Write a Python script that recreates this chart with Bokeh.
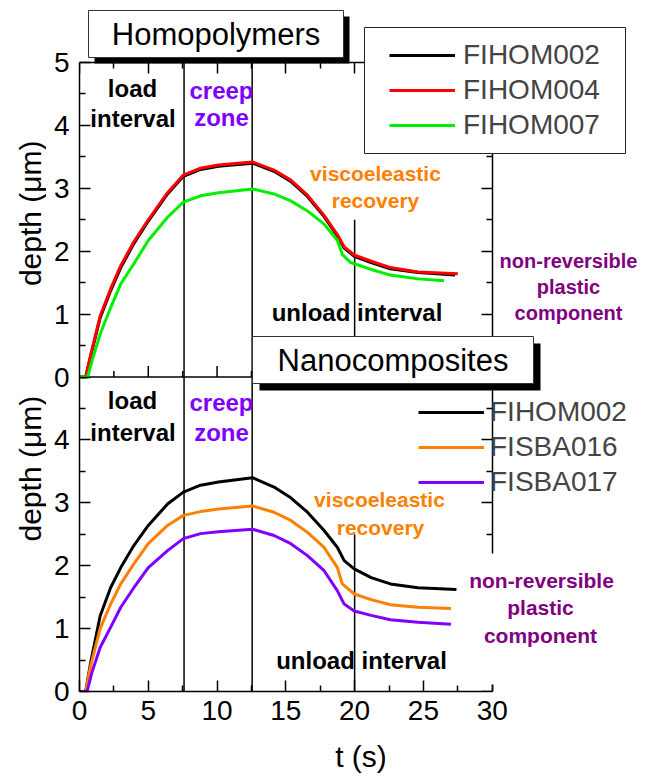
import math
from bokeh.plotting import figure
from bokeh.layouts import row
from bokeh.models import (Range1d, LinearAxis, FixedTicker, Label,
                          BoxAnnotation, Legend, LegendItem)
from bokeh.embed import file_html
from bokeh.resources import INLINE

# ---------------- data: top panel (Homopolymers) ----------------
t_hom002 = [0, 0.45, 0.8, 1.5, 2.26, 3.0, 3.95, 5.0, 6.4, 7.55, 8.8, 10.1, 12.57,
            14.14, 15.36, 16.57, 17.78, 18.75, 19.24, 19.97, 21.2, 22.6, 24.6, 27.3]
d_hom002 = [0, 0, 0.32, 0.94, 1.37, 1.74, 2.12, 2.48, 2.91, 3.19, 3.30, 3.35, 3.40,
            3.27, 3.11, 2.87, 2.55, 2.24, 2.05, 1.92, 1.82, 1.72, 1.66, 1.62]
t_hom004 = [0, 0.45, 0.8, 1.5, 2.26, 3.0, 3.95, 5.0, 6.4, 7.55, 8.8, 10.1, 12.57,
            14.14, 15.36, 16.57, 17.78, 18.75, 19.24, 19.97, 21.2, 22.6, 24.6, 27.5]
d_hom004 = [0, 0, 0.34, 0.97, 1.40, 1.77, 2.15, 2.50, 2.93, 3.21, 3.32, 3.37, 3.42,
            3.29, 3.13, 2.89, 2.57, 2.26, 2.07, 1.94, 1.84, 1.74, 1.67, 1.64]
t_hom007 = [0, 0.6, 0.9, 1.5, 2.26, 3.0, 3.95, 5.0, 6.4, 7.55, 8.8, 10.1, 12.57,
            14.14, 15.36, 16.57, 17.78, 18.75, 19.1, 19.7, 21.2, 22.6, 24.6, 26.5]
d_hom007 = [0, 0, 0.25, 0.68, 1.10, 1.48, 1.80, 2.17, 2.54, 2.78, 2.88, 2.93, 2.99,
            2.91, 2.80, 2.64, 2.43, 2.17, 1.95, 1.82, 1.71, 1.62, 1.56, 1.53]

# ---------------- data: bottom panel (Nanocomposites) ----------------
t_nc002 = [0, 0.45, 0.8, 1.5, 2.26, 3.0, 3.95, 5.0, 6.4, 7.55, 8.8, 10.1, 12.57,
           14.14, 15.36, 16.57, 17.78, 18.75, 19.24, 19.97, 21.2, 22.6, 24.6, 27.4]
d_nc002 = [0, 0, 0.45, 1.20, 1.65, 1.97, 2.32, 2.64, 2.98, 3.17, 3.28, 3.33, 3.40,
           3.25, 3.08, 2.85, 2.56, 2.29, 2.08, 1.95, 1.81, 1.71, 1.65, 1.62]
t_sba016 = [0, 0.45, 0.8, 1.5, 2.26, 3.0, 3.95, 5.0, 6.4, 7.55, 8.8, 10.1, 12.57,
            14.14, 15.36, 16.57, 17.78, 18.75, 19.1, 19.97, 21.2, 22.6, 24.6, 27.0]
d_sba016 = [0, 0, 0.40, 1.00, 1.39, 1.71, 2.03, 2.35, 2.64, 2.80, 2.86, 2.90, 2.95,
            2.85, 2.72, 2.53, 2.29, 1.97, 1.71, 1.55, 1.46, 1.38, 1.34, 1.32]
t_sba017 = [0, 0.55, 0.9, 1.5, 2.26, 3.0, 3.95, 5.0, 6.4, 7.55, 8.8, 10.1, 12.57,
            14.14, 15.36, 16.57, 17.78, 18.75, 19.24, 19.97, 21.2, 22.6, 24.6, 27.0]
d_sba017 = [0, 0, 0.30, 0.70, 1.02, 1.34, 1.65, 1.97, 2.24, 2.43, 2.51, 2.54, 2.58,
            2.48, 2.35, 2.16, 1.92, 1.60, 1.39, 1.28, 1.21, 1.14, 1.10, 1.07]

# interval boundaries (s) and the height of the unload marker (um)
load_end = 7.6
creep_end = 12.55
unload_mark = 20.0
unload_mark_top = 2.5

# ticks
x_major = [0, 5, 10, 15, 20, 25, 30]
x_minor = [2.5, 7.5, 12.5, 17.5, 22.5, 27.5]
y_major = [0, 1, 2, 3, 4, 5, 6, 7, 8, 9, 10]
y_minor = [0.5, 1.5, 2.5, 3.5, 4.5, 5.5, 6.5, 7.5, 8.5, 9.5]
y_labels = {5: "0", 6: "1", 7: "2", 8: "3", 9: "4", 10: "5"}

FONT = "Liberation Sans"
BLACK = "#000000"
RED = "#ff0000"
GREEN = "#00ee00"
ORANGE = "#ff8000"
VIOLET = "#8000ff"
PURPLE = "#800080"

# ---------------- geometry (page pixels) ----------------
H = 780
OX = 46                      # width of the strip holding the y titles
W = 598                      # width of the main figure
X0PX, X30PX = 79.0, 491.7
Y0PX, Y10PX = 691.0, 62.0
FL, FR, FT, FB = X0PX, OX + W - 2, 4, 691   # frame edges (page px)
SX = (X30PX - X0PX) / 30.0
SY = (Y0PX - Y10PX) / 10.0


def X(px):
    return (px - X0PX) / SX


def Y(py):
    return (Y0PX - py) / SY


# ---------------- strip with the two y titles ----------------
lab = figure(width=OX, height=H, x_range=Range1d(0, OX), y_range=Range1d(H, 0),
             output_backend="svg", toolbar_location=None,
             x_axis_location=None, y_axis_location=None,
             min_border=0, min_border_left=0, min_border_right=0,
             min_border_top=0, min_border_bottom=0)
lab.grid.visible = False
lab.outline_line_color = None
lab.background_fill_color = "white"
lab.border_fill_color = "white"
for cy in (237, 527):
    lab.add_layout(Label(x=30, y=cy, text="depth (\u03bcm)", angle=math.pi / 2,
                         text_font=FONT, text_font_size="30px", text_color="black",
                         text_align="center", text_baseline="middle"))

# ---------------- main figure ----------------
p = figure(width=W, height=H,
           x_range=Range1d(X(FL), X(FR)), y_range=Range1d(0, Y(FT)),
           output_backend="svg", toolbar_location=None,
           x_axis_location=None, y_axis_location=None,
           min_border_left=int(FL - OX), min_border_right=OX + W - FR, min_border_top=FT,
           min_border_bottom=H - FB)
p.extra_y_ranges = {"top": Range1d(-5, Y(FT) - 5)}
p.grid.visible = False
p.outline_line_color = None
p.background_fill_color = "white"
p.border_fill_color = "white"


def style_axis(ax):
    ax.major_tick_in = 11
    ax.major_tick_out = 0
    ax.minor_tick_in = 6
    ax.minor_tick_out = 0
    ax.axis_line_width = 1.5
    ax.major_tick_line_width = 1.5
    ax.minor_tick_line_width = 1.5
    ax.major_label_text_font = FONT
    ax.major_label_text_font_size = "28px"
    ax.major_label_text_color = "black"
    ax.axis_label_text_font = FONT
    ax.axis_label_text_font_size = "30px"
    ax.axis_label_text_font_style = "normal"
    ax.axis_label_text_color = "black"


def hide_labels(ax, ticks):
    ax.major_label_overrides = {v: "" for v in ticks}
    ax.major_label_text_font_size = "1px"
    ax.major_label_standoff = 0


xb = LinearAxis(axis_label="t (s)", bounds=(0, 30),
                ticker=FixedTicker(ticks=x_major, minor_ticks=x_minor))
style_axis(xb)
xb.major_label_standoff = 9
xb.axis_label_standoff = 17
p.add_layout(xb, "below")

xt = LinearAxis(bounds=(0, 30), fixed_location=10,
                ticker=FixedTicker(ticks=x_major, minor_ticks=x_minor))
style_axis(xt)
hide_labels(xt, x_major)
p.add_layout(xt, "above")

yl = LinearAxis(bounds=(0, 10),
                ticker=FixedTicker(ticks=y_major, minor_ticks=y_minor))
style_axis(yl)
yl.major_label_overrides = y_labels
yl.major_label_standoff = 10
p.add_layout(yl, "left")

yr = LinearAxis(bounds=(0, 10), fixed_location=30,
                ticker=FixedTicker(ticks=y_major, minor_ticks=y_minor))
style_axis(yr)
hide_labels(yr, y_major)
p.add_layout(yr, "right")

# boundary between the two panels with the upper panel's inward ticks
p.segment(x0=[0], x1=[30], y0=[5], y1=[5], line_color="black", line_width=1.5)
p.segment(x0=x_major[1:-1], x1=x_major[1:-1], y0=[5] * 5, y1=[5 + 11 / SY] * 5,
          line_color="black", line_width=1.5)
p.segment(x0=x_minor, x1=x_minor, y0=[5] * 6, y1=[5 + 6 / SY] * 6,
          line_color="black", line_width=1.5)

# interval markers
p.segment(x0=[load_end, creep_end], x1=[load_end, creep_end], y0=[0, 0], y1=[10, 10],
          line_color="black", line_width=1.5)
p.segment(x0=[unload_mark], x1=[unload_mark], y0=[0], y1=[unload_mark_top],
          line_color="black", line_width=1.5, y_range_name="top")
p.segment(x0=[unload_mark], x1=[unload_mark], y0=[0], y1=[unload_mark_top],
          line_color="black", line_width=1.5)

# curves
LW = 3
r_h002 = p.line(t_hom002, d_hom002, line_color=BLACK, line_width=LW, y_range_name="top")
r_h004 = p.line(t_hom004, d_hom004, line_color=RED, line_width=LW, y_range_name="top")
r_h007 = p.line(t_hom007, d_hom007, line_color=GREEN, line_width=LW, y_range_name="top")
r_n002 = p.line(t_nc002, d_nc002, line_color=BLACK, line_width=LW)
r_s016 = p.line(t_sba016, d_sba016, line_color=ORANGE, line_width=LW)
r_s017 = p.line(t_sba017, d_sba017, line_color=VIOLET, line_width=LW)


def box(l, r, t, b, fill, line=None):
    p.add_layout(BoxAnnotation(left=X(l), right=X(r), top=Y(t), bottom=Y(b),
                               fill_color=fill, fill_alpha=1,
                               line_color=line if line else "white",
                               line_alpha=1 if line else 0, line_width=1))


# white area behind the lower-right annotation
box(470, 616, 553, 684, "white")
# upper legend frame
box(364, 625, 27, 153, "white", "#222222")


def title_box(text, l, r, t, b, off):
    box(l + off, r + off, t + off, b + off, "black")
    box(l, r, t, b, "white", "#333333")
    p.add_layout(Label(x=X((l + r) / 2), y=Y((t + b) / 2), text=text, text_font=FONT,
                       text_font_size="31px", text_align="center",
                       text_baseline="middle", text_color="black"))


title_box("Homopolymers", 88, 343, 10, 57, 6)
title_box("Nanocomposites", 252, 533, 336, 383, 7)


def note(text, cx, cy, color, size="24px"):
    p.add_layout(Label(x=X(cx), y=Y(cy), text=text, text_font=FONT, text_font_size=size,
                       text_font_style="bold", text_color=color,
                       text_align="center", text_baseline="middle"))


# upper panel notes
note("load", 132, 88, BLACK)
note("interval", 132.5, 118, BLACK)
note("creep", 221, 90, VIOLET)
note("zone", 221, 117, VIOLET)
note("viscoeleastic", 375, 173, ORANGE, "21px")
note("recovery", 375, 200, ORANGE, "21px")
note("unload interval", 356.5, 312, BLACK)
note("non-reversible", 568, 260, PURPLE, "20px")
note("plastic", 568, 286, PURPLE, "20px")
note("component", 568, 312, PURPLE, "20px")

# lower panel notes
note("load", 132, 400, BLACK)
note("interval", 132.5, 432, BLACK)
note("creep", 221, 402, VIOLET)
note("zone", 221, 432, VIOLET)
note("viscoeleastic", 379, 499, ORANGE, "21px")
note("recovery", 380, 527, ORANGE, "21px")
note("non-reversible", 541, 580, PURPLE, "21px")
note("plastic", 540, 607, PURPLE, "21px")
note("component", 540, 635, PURPLE, "21px")
note("unload interval", 361, 660, BLACK)


# legends
def make_legend(items, glyph_left_px, bottom_px, standoff):
    lg = Legend(items=[LegendItem(label=lab_, renderers=[r]) for lab_, r in items],
                location=(int(glyph_left_px - FL), int(FB - bottom_px)),
                padding=0, margin=0, spacing=3,
                glyph_width=66, glyph_height=30, label_height=30,
                label_standoff=standoff,
                label_text_font=FONT, label_text_font_size="28px",
                border_line_alpha=0, background_fill_alpha=0)
    p.add_layout(lg)


make_legend([("FIHOM002", r_h002), ("FIHOM004", r_h004), ("FIHOM007", r_h007)],
            389, 141, 8)
make_legend([("FIHOM002", r_n002), ("FISBA016", r_s016), ("FISBA017", r_s017)],
            418, 498, 6)

layout = row(lab, p, spacing=0)
open("out.html", "w").write(file_html(layout, INLINE))
